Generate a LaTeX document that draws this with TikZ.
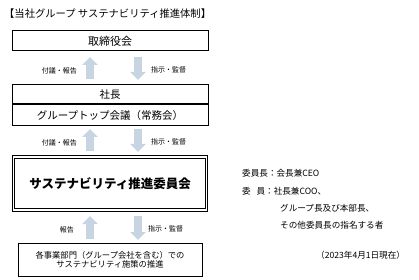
\documentclass[tikz,border=0pt]{standalone}
\usepackage{fontspec}
\setmainfont{Noto Sans CJK JP}
\usetikzlibrary{positioning}
\usetikzlibrary{arrows.meta}
\definecolor{arrowfill}{RGB}{200,212,226}

\newcommand{\fsize}[1]{\fontsize{#1}{#1}\selectfont}

\begin{document}
\begin{tikzpicture}[
    x=1pt, y=-1pt,
    org box/.style={draw, line width=1pt, inner sep=0pt, align=center},
    flow arrow/.style={arrowfill, line width=7.5pt,
        -{Triangle[width=15pt,length=8pt]}},
    flow label/.style={font=\fsize{7}, inner sep=0pt},
    side text/.style={font=\fsize{8.6}, inner sep=0pt, anchor=west}
  ]
  \useasboundingbox (0,0) rectangle (419,280);

  \node[anchor=west, inner sep=0pt, font=\fsize{10.3}] (title) at (4,14)
    {【当社グループ\ サステナビリティ推進体制】};

  % boxes
  \node[org box, minimum width=196pt, minimum height=20pt, font=\fsize{11}]
    (board) at (110,41) {取締役会};
  \node[org box, minimum width=196pt, minimum height=19pt, font=\fsize{10.5}]
    (president) at (110,94.5) {社長};
  \node[org box, minimum width=196pt, minimum height=21pt, font=\fsize{10.5},
    below=0pt of president] (topmtg) {グループトップ会議（常務会）};
  \node[org box, double, double distance=1.5pt, line width=1pt,
    minimum width=193pt, minimum height=53pt, font=\fsize{12.5}\bfseries]
    (committee) at (110,183.5) {サステナビリティ推進委員会};
  \node[org box, minimum width=184pt, minimum height=33pt, font=\fsize{8.3},
    align=center] (divisions) at (110,259.5)
    {各事業部門（グループ会社を含む）での\\[1pt]サステナビリティ施策の推進};

  % arrows between the boxes
  \coordinate (up1 s) at (90,79);   \coordinate (up1 e) at (90,57);
  \coordinate (dn1 s) at (138,57);  \coordinate (dn1 e) at (138,80);
  \coordinate (up2 s) at (90,151);  \coordinate (up2 e) at (90,129);
  \coordinate (dn2 s) at (138,129); \coordinate (dn2 e) at (138,152);
  \coordinate (up3 s) at (90,239);  \coordinate (up3 e) at (90,216);
  \coordinate (dn3 s) at (138,216); \coordinate (dn3 e) at (138,240);

  \draw[flow arrow] (up1 s) -- (up1 e);
  \draw[flow arrow] (dn1 s) -- (dn1 e);
  \draw[flow arrow] (up2 s) -- (up2 e);
  \draw[flow arrow] (dn2 s) -- (dn2 e);
  \draw[flow arrow] (up3 s) -- (up3 e);
  \draw[flow arrow] (dn3 s) -- (dn3 e);

  \node[flow label, anchor=east] (rep1) at (77,71) {付議・報告};
  \node[flow label, anchor=west] (dir1) at (151,70) {指示・監督};
  \node[flow label, anchor=east] (rep2) at (77,143) {付議・報告};
  \node[flow label, anchor=west] (dir2) at (151,142) {指示・監督};
  \node[flow label, anchor=east] (rep3) at (74,230) {報告};
  \node[flow label, anchor=west] (dir3) at (148,229) {指示・監督};

  % members
  \node[side text] (chair) at (242,173) {委員長：会長兼CEO};
  \node[side text] (members) at (242,191.5) {委\ \ \ 員：社長兼COO、};
  \node[side text] (members2) at (280,208.5) {グループ長及び本部長、};
  \node[side text] (members3) at (280,225.5) {その他委員長の指名する者};

  \node[side text] (date) at (316,255.5) {（2023年4月1日現在）};

\end{tikzpicture}
\end{document}
